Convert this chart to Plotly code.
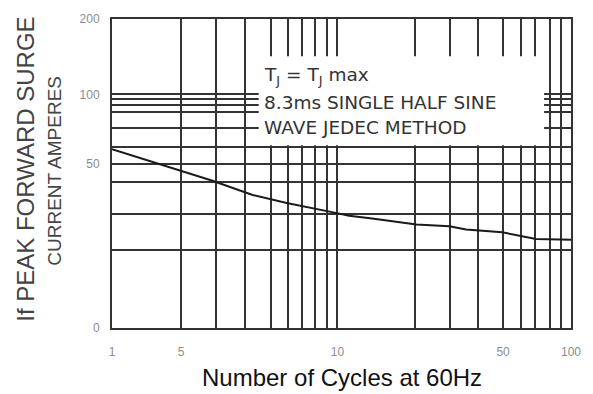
import plotly.graph_objects as go

# Curve data
cycles = [1, 1.54, 2.01, 2.72, 4.1, 5.77, 8.87, 10.8, 13.6, 21.2, 29.5, 34.9, 50.1, 70.4, 100]
surge_current = [56.6, 49.6, 46.0, 41.8, 36.3, 33.6, 30.9, 29.7, 28.9, 27.3, 26.8, 26.0, 25.3, 23.7, 23.5]

# Labelled tick positions and labels as drawn on the original
x_tick_vals = [1, 2, 9.6, 50.6, 100]
x_tick_text = ["1", "5", "10", "50", "100"]
y_tick_vals = [10, 49.1, 96.3, 200]
y_tick_text = ["0", "50", "100", "200"]
# Unlabelled grid lines
x_minor_grid = [2.83, 3.79, 4.91, 5.82, 6.70, 7.63, 8.61,
                20.8, 29.8, 39.4, 60.7, 69.7, 81.1, 90.5]
y_minor_grid = [21.3, 30.3, 41.0, 57.7, 69.8, 81.2, 86.7, 91.8]

note_lines = ["T<sub>J</sub> = T<sub>J</sub> max", "8.3ms SINGLE HALF SINE", "WAVE JEDEC METHOD"]
y_title_lines = ["If PEAK FORWARD SURGE", "CURRENT AMPERES"]
x_title = "Number of Cycles at 60Hz"

GRID = "#333333"
TICKC = "#8c8c8c"

fig = go.Figure()
fig.add_trace(go.Scatter(x=cycles, y=surge_current, mode="lines",
                         line=dict(color="#1a1a1a", width=2), showlegend=False,
                         hoverinfo="skip"))

fig.update_layout(
    width=593, height=394,
    margin=dict(l=112, r=21, t=12, b=66),
    paper_bgcolor="white", plot_bgcolor="white",
    showlegend=False,
)
fig.update_xaxes(
    type="log", range=[0, 2],
    tickmode="array", tickvals=x_tick_vals, ticktext=x_tick_text,
    showgrid=True, gridcolor=GRID, gridwidth=2,
    minor=dict(tickmode="array", tickvals=x_minor_grid, showgrid=True,
               gridcolor=GRID, gridwidth=2, ticks=""),
    showline=True, linecolor=GRID, linewidth=2, mirror=True,
    ticks="outside", ticklen=12, tickcolor="rgba(0,0,0,0)",
    tickfont=dict(family="Liberation Sans, Arial", size=12, color=TICKC),
    zeroline=False,
)
fig.update_yaxes(
    type="log", range=[1, 2.30103],
    tickmode="array", tickvals=y_tick_vals, ticktext=y_tick_text,
    showgrid=True, gridcolor=GRID, gridwidth=2,
    minor=dict(tickmode="array", tickvals=y_minor_grid, showgrid=True,
               gridcolor=GRID, gridwidth=2, ticks=""),
    showline=True, linecolor=GRID, linewidth=2, mirror=True,
    ticks="outside", ticklen=8, tickcolor="rgba(0,0,0,0)",
    tickfont=dict(family="Liberation Sans, Arial", size=12, color=TICKC),
    zeroline=False,
)

# white label box that interrupts the grid
fig.add_shape(type="rect", xref="paper", yref="paper",
              x0=0.3196, x1=0.9413, y0=0.5918, y1=0.8797,
              fillcolor="white", line=dict(width=0), layer="above")

for txt, yy in zip(note_lines, [0.8165, 0.731, 0.6487]):
    fig.add_annotation(text=txt, xref="paper", yref="paper", x=0.326, y=yy,
                       xanchor="left", yanchor="middle", showarrow=False,
                       font=dict(family="DejaVu Sans", size=18.5, color="#333333"))

fig.add_annotation(text=y_title_lines[0], xref="paper", yref="paper",
                   x=(25 - 112) / 460, y=(328 - 166) / 316, textangle=-90,
                   xanchor="center", yanchor="middle", showarrow=False,
                   font=dict(family="Liberation Sans, Arial", size=24, color="#444444"))
fig.add_annotation(text=y_title_lines[1], xref="paper", yref="paper",
                   x=(54 - 112) / 460, y=(328 - 167) / 316, textangle=-90,
                   xanchor="center", yanchor="middle", showarrow=False,
                   font=dict(family="Liberation Sans, Arial", size=19, color="#444444"))
fig.add_annotation(text=x_title, xref="paper", yref="paper",
                   x=0.5, y=(328 - 379) / 316,
                   xanchor="center", yanchor="middle", showarrow=False,
                   font=dict(family="Liberation Sans, Arial", size=24, color="#111111"))

fig.write_html("out.html")
